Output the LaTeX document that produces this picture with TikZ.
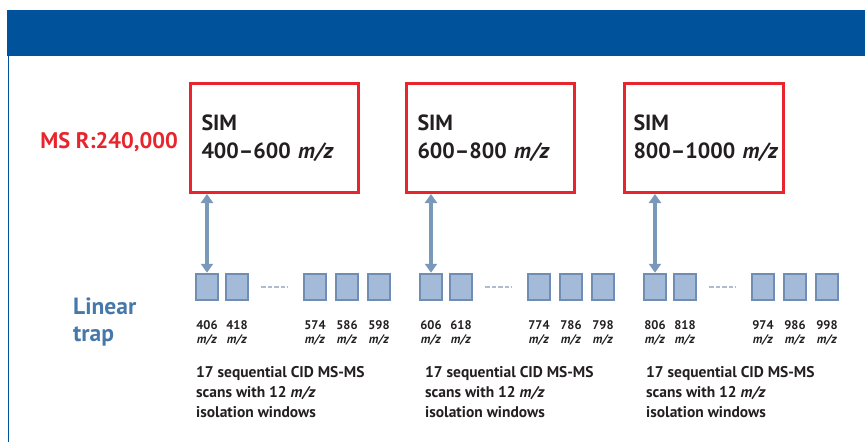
\documentclass[tikz,border=0pt]{standalone}
\usepackage{fontspec}
\setmainfont{PT Sans}
\usepackage{tikz,xcolor}
\usetikzlibrary{arrows.meta,calc}

\definecolor{banner}{RGB}{0,82,155}
\definecolor{simred}{RGB}{232,36,44}
\definecolor{trapblue}{RGB}{70,120,170}
\definecolor{arrowblue}{RGB}{122,152,185}
\definecolor{sqfill}{RGB}{163,187,216}
\definecolor{sqline}{RGB}{112,142,178}
\definecolor{dashgray}{RGB}{176,188,205}
\definecolor{txtgray}{RGB}{35,31,32}

\tikzset{
  simbox/.style={draw=simred, line width=3pt, text width=146pt, align=left,
    minimum width=168pt, minimum height=109pt, inner sep=0pt, anchor=north west,
    font=\fontsize{22}{28}\selectfont\bfseries, text=txtgray},
  scanbox/.style={draw=sqline, fill=sqfill, line width=2.5pt,
    minimum width=22pt, minimum height=26pt, inner sep=0pt},
  mzlabel/.style={align=center, text=txtgray, inner sep=0pt, anchor=base,
    font=\fontsize{12.5}{13.5}\selectfont\bfseries},
  scantext/.style={align=left, text=txtgray, inner sep=0pt, anchor=base west,
    font=\fontsize{15.5}{20}\selectfont\bfseries},
  dblarrow/.style={arrowblue, line width=4pt, {Triangle[width=12pt,length=9pt]}-{Triangle[width=12pt,length=9pt]}},
  gapdash/.style={dashgray, line width=2pt, dash pattern=on 4.5pt off 2pt}
}

\begin{document}
\begin{tikzpicture}[x=1pt,y=-1pt]
\useasboundingbox (0,0) rectangle (865,442);

% header bar and left rule
\fill[banner] (7,10) rectangle (865,55.5);
\draw[banner, line width=1.8pt] (8.5,55.5) -- (8.5,442);

\node[simred, anchor=base east, inner sep=0pt, font=\fontsize{22.5}{24}\selectfont\bfseries]
  (msres) at (178,148) {MS R:240,000};
\node[trapblue, anchor=base west, align=left, inner sep=0pt, font=\fontsize{23.5}{27}\selectfont\bfseries]
  (trap) at (73,341) {Linear\\trap};

% SIM windows
\node[simbox] (box1) at (189,82) {SIM\\\mbox{400--600 \textit{m/z}}};
\node[simbox] (box2) at (405,82) {SIM\\\mbox{600--800 \textit{m/z}}};
\node[simbox, minimum width=159pt, text width=141pt] (box3) at (623,82) {SIM\\\mbox{800--1000 \textit{m/z}}};

% linear trap scans
\foreach \g/\dx/\tx/\a/\b/\c/\d/\e in {1/0/196/406/418/574/586/598, 2/224/425/606/618/774/786/798, 3/448/646/806/818/974/986/998}{
  \node[scanbox] (sq\g1) at (207+\dx,287) {};
  \node[scanbox] (sq\g2) at (237+\dx,287) {};
  \node[scanbox] (sq\g3) at (315+\dx,287) {};
  \node[scanbox] (sq\g4) at (347+\dx,287) {};
  \node[scanbox] (sq\g5) at (379+\dx,287) {};
  \draw[gapdash, shorten <=12pt, shorten >=15pt] (sq\g2) -- (sq\g3);
  \draw[dblarrow] (sq\g1.north |- box\g.south) -- (sq\g1.north);
  \node[mzlabel] (mz\g1) at (207+\dx,343) {\a\\\textit{m/z}};
  \node[mzlabel] (mz\g2) at (237+\dx,343) {\b\\\textit{m/z}};
  \node[mzlabel] (mz\g3) at (315+\dx,343) {\c\\\textit{m/z}};
  \node[mzlabel] (mz\g4) at (347+\dx,343) {\d\\\textit{m/z}};
  \node[mzlabel] (mz\g5) at (379+\dx,343) {\e\\\textit{m/z}};
  \node[scantext] (cid\g) at (\tx,417) {17 sequential CID MS-MS\\scans with 12 \textit{m/z}\\isolation windows};
}
\end{tikzpicture}
\end{document}
